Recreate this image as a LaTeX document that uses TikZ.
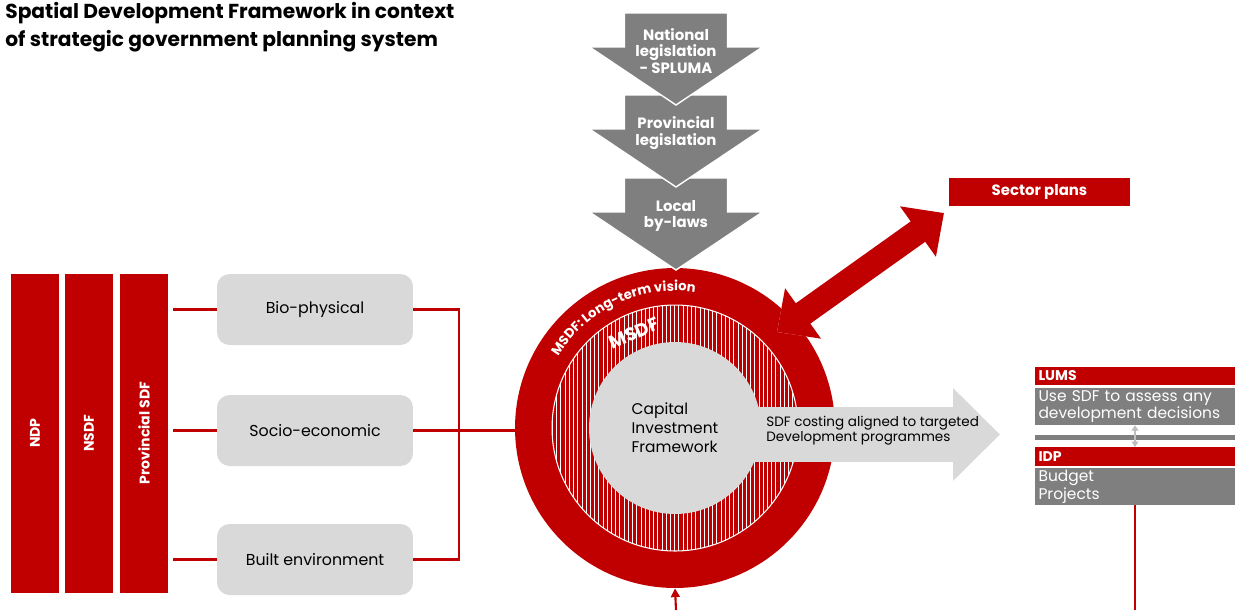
\documentclass[tikz,border=0pt]{standalone}
\usepackage{fontspec}
\setmainfont{Poppins}
\usepackage{tikz}
\usetikzlibrary{arrows.meta,positioning,decorations.text,patterns.meta}
\definecolor{sdfred}{RGB}{192,0,0}
\definecolor{sdfgray}{RGB}{127,127,127}
\definecolor{sdflight}{RGB}{217,217,217}
\definecolor{sdfmid}{RGB}{190,190,190}
\tikzstyle{redbar} = [rectangle, fill=sdfred, draw=white, minimum width=0.98cm, minimum height=6.4cm, text=white, font=\fontsize{8}{9}\selectfont\bfseries]
\tikzstyle{theme} = [rectangle, rounded corners=0.25cm, fill=sdflight, minimum width=3.92cm, minimum height=1.42cm, font=\fontsize{9}{10}\selectfont]
\tikzstyle{redline} = [line width=1.2pt, color=sdfred]
\tikzstyle{legarrow} = [fill=sdfgray, draw=white, line width=0.8pt]
\tikzstyle{legtext} = [text=white, align=center, font=\fontsize{8.5}{9.6}\selectfont\bfseries]
\tikzstyle{header} = [rectangle, fill=sdfred, inner xsep=2pt, inner ysep=0pt, text width=3.86cm, minimum height=0.37cm, align=left, text=white, font=\fontsize{8}{9}\selectfont\bfseries]
\tikzstyle{panel} = [rectangle, fill=sdfgray, inner xsep=2pt, inner ysep=0pt, text width=3.86cm, minimum height=0.74cm, align=left, text=white, font=\fontsize{8.8}{10.2}\selectfont]

\begin{document}
\begin{tikzpicture}[x=0.02cm, y=0.02cm]
\useasboundingbox (0,0) rectangle (1237,-610);

% Title
\node (title) [anchor=north west, inner sep=0pt, align=left, font=\fontsize{11.5}{15.9}\selectfont\bfseries] at (5,-2) {Spatial Development Framework in context\\of strategic government planning system};

% National / provincial frameworks
\node (ndp) [redbar] at (35,-433) {\rotatebox{90}{NDP}};
\node (nsdf) [redbar] at (89,-433) {\rotatebox{90}{NSDF}};
\node (psdf) [redbar] at (144,-433) {\rotatebox{90}{Provincial SDF}};

% Themes
\node (bio) [theme] at (315,-309.5) {Bio-physical};
\node (socio) [theme] at (315,-430.5) {Socio-economic};
\node (built) [theme] at (315,-559.5) {Built environment};

% MSDF rings
\node (msdf) [circle, fill=sdfred, minimum size=6.4cm] at (675,-428) {};
\node (hatch) [circle, draw=white, line width=0.6pt, fill=sdfred, minimum size=4.92cm, postaction={pattern={Lines[angle=90,distance=2.4pt,line width=0.45pt]}, pattern color=white}] at (675,-428) {};
\path[decorate, decoration={text along path, text align=center, text={|\color{white}\fontsize{7.5}{8}\selectfont\bfseries|MSDF: Long-term vision}}] (675,-428) ++(156:137) arc (156:74:137);

% Costing arrow
\coordinate (costtip) at (1000,-434.5);
\draw[sdflight, line width=1.1cm, -{Triangle[length=0.94cm,width=1.8cm]}] (msdf.center |- costtip) -- (costtip);
\node (cif) [circle, fill=sdflight, minimum size=3.44cm, align=left, font=\fontsize{8.8}{10.8}\selectfont] at (675,-428) {Capital\\Investment\\Framework};
\node (costing) [anchor=west, inner sep=0pt, align=left, font=\fontsize{7.7}{8.6}\selectfont] at (766,-430.5) {SDF costing aligned to targeted\\Development programmes};
\node (msdflabel) [rotate=23, text=white, font=\fontsize{10.5}{12}\selectfont\bfseries] at (634,-333) {MSDF};

% Legislation
\foreach \t/\n/\txt in {178/local/{Local\\by-laws}, 95/prov/{Provincial\\legislation}, 13/natl/{National\\legislation\\- SPLUMA}} {
  \draw[legarrow] (624.5,-\t) -- (727.5,-\t) -- (727.5,-\t-34) -- (762.5,-\t-34) -- (676,-\t-92) -- (589.5,-\t-34) -- (624.5,-\t-34) -- cycle;
  \node (\n) [legtext] at (676,-\t-38) {\txt};
}

% Sector plans
\node (sector) [rectangle, fill=sdfred, minimum width=3.62cm, minimum height=0.56cm, text=white, font=\fontsize{8.5}{9}\selectfont\bfseries] at (1039.5,-192) {Sector plans};
\coordinate (sa) at (777,-332);
\coordinate (sb) at (944,-213);
\draw[white, line width=0.56cm, {Triangle[length=0.7cm,width=1.3cm]}-{Triangle[length=0.7cm,width=1.3cm]}] (sa) -- (sb);
\draw[sdfred, line width=0.5cm, {Triangle[length=0.64cm,width=1.2cm]}-{Triangle[length=0.64cm,width=1.2cm]}] (sa) -- (sb);

% LUMS and IDP
\node (lums) [header] at (1135,-376) {LUMS};
\node (lumsbody) [panel] at (1135,-406.5) {Use SDF to assess any\\development decisions};
\node (sep) [rectangle, fill=sdfgray, inner sep=0pt, minimum width=4cm, minimum height=0.1cm] at (1135,-437.5) {};
\node (idp) [header] at (1135,-456.5) {IDP};
\node (idpbody) [panel] at (1135,-486.5) {Budget\\Projects};
\draw[sdfmid, line width=0.6pt, {Triangle[length=3pt,width=4pt]}-{Triangle[length=3pt,width=4pt]}] (lumsbody.south) -- (idp.north);

% Connections
\draw[redline, shorten >=0.08cm] (bio.west) -- (bio.west -| psdf.east);
\draw[redline, shorten >=0.08cm] (socio.west) -- (socio.west -| psdf.east);
\draw[redline, shorten >=0.08cm] (built.west) -- (built.west -| psdf.east);
\draw[redline] (bio.east) -- ++(46,0) |- (built.east);
\draw[redline] (socio.east) -- (socio.east -| msdf.west);
\coordinate (idpend) at (1135,-610);
\draw[redline] (idpbody.south) -- (idpend);
\coordinate (base) at (676,-610);
\draw[redline, -{Triangle[length=5pt,width=5pt]}] (base) -- (msdf.south);
\end{tikzpicture}
\end{document}
